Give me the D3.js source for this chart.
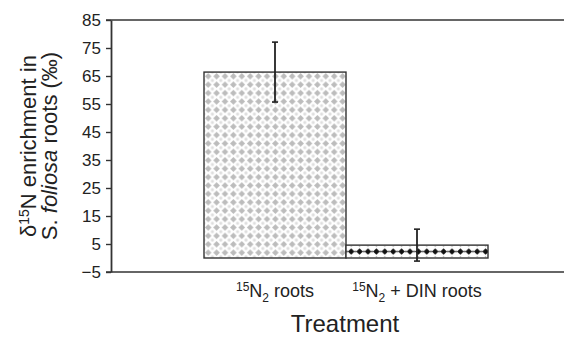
<!DOCTYPE html>
<meta charset="utf-8">
<script src="https://cdn.jsdelivr.net/npm/d3@7"></script>
<style>
  body { margin: 0; background: #fff; font-family: 'Liberation Sans', Arial, sans-serif; color: #222; }
</style>
<div id="chart"></div>
<script>
// data
var treatments = ["n2", "n2din"];
var means = [66.4, 4.6];
var errors = [10.7, 5.7];
var yTicks = [-5, 5, 15, 25, 35, 45, 55, 65, 75, 85];

var width = 564, height = 337;
var axisColor = "#333";

var svg = d3.select("#chart").append("svg")
  .attr("width", width)
  .attr("height", height);

var y = d3.scaleLinear().domain([-5, 85]).range([272, 20]);
var x = d3.scaleBand().domain(treatments).range([204, 488]).padding(0);

// fill patterns
var defs = svg.append("defs");
var p1 = defs.append("pattern")
  .attr("id", "grayDots")
  .attr("patternUnits", "userSpaceOnUse")
  .attr("x", 204).attr("y", y(means[0]))
  .attr("width", 8.4).attr("height", 8.4);
p1.append("rect").attr("width", 8.4).attr("height", 8.4).attr("fill", "#fff");
[[0, 0], [8.4, 0], [0, 8.4], [8.4, 8.4]].forEach(function(c) {
  p1.append("circle").attr("cx", c[0]).attr("cy", c[1]).attr("r", 1.6).attr("fill", "#dedede");
});
p1.append("path")
  .attr("d", "M4.2,0.9 L7.5,4.2 L4.2,7.5 L0.9,4.2 Z")
  .attr("fill", "#bcbcbc");

var h2 = y(0) - y(means[1]);
var p2 = defs.append("pattern")
  .attr("id", "blackDots")
  .attr("patternUnits", "userSpaceOnUse")
  .attr("x", x("n2din") + 1).attr("y", y(means[1]))
  .attr("width", 8.4).attr("height", h2);
p2.append("rect").attr("width", 8.4).attr("height", h2).attr("fill", "#fff");
p2.append("path")
  .attr("d", "M4.2," + (h2 / 2 - 3.3) + " L7.5," + (h2 / 2) + " L4.2," + (h2 / 2 + 3.3) + " L0.9," + (h2 / 2) + " Z")
  .attr("fill", "#111");
p2.append("circle").attr("cx", 0).attr("cy", h2 / 2).attr("r", 0.9).attr("fill", "#555");
p2.append("circle").attr("cx", 8.4).attr("cy", h2 / 2).attr("r", 0.9).attr("fill", "#555");
p2.append("circle").attr("cx", 4.2).attr("cy", 1.2).attr("r", 0.8).attr("fill", "#bbb");
p2.append("circle").attr("cx", 4.2).attr("cy", h2 - 1.2).attr("r", 0.8).attr("fill", "#bbb");

// top and bottom frame lines
svg.append("line")
  .attr("x1", 106).attr("x2", width)
  .attr("y1", y(85)).attr("y2", y(85))
  .attr("stroke", axisColor).attr("stroke-width", 1.6);
svg.append("line")
  .attr("x1", 106).attr("x2", width)
  .attr("y1", y(-5)).attr("y2", y(-5))
  .attr("stroke", axisColor).attr("stroke-width", 1.6);

// bars
var fills = ["url(#grayDots)", "url(#blackDots)"];
svg.selectAll("rect.bar")
  .data(treatments)
  .enter().append("rect")
    .attr("class", "bar")
    .attr("x", function(d) { return x(d); })
    .attr("width", x.bandwidth())
    .attr("y", function(d, i) { return y(means[i]); })
    .attr("height", function(d, i) { return y(0) - y(means[i]); })
    .attr("fill", function(d, i) { return fills[i]; })
    .attr("stroke", axisColor)
    .attr("stroke-width", 1.4);

// error bars
var eb = svg.selectAll("g.err")
  .data(treatments)
  .enter().append("g")
    .attr("class", "err")
    .attr("stroke", "#222");
eb.append("line")
  .attr("x1", function(d) { return x(d) + x.bandwidth() / 2; })
  .attr("x2", function(d) { return x(d) + x.bandwidth() / 2; })
  .attr("y1", function(d, i) { return y(means[i] + errors[i]); })
  .attr("y2", function(d, i) { return y(means[i] - errors[i]); })
  .attr("stroke-width", 1.8);
eb.selectAll("line.cap")
  .data(function(d, i) { return [[d, means[i] + errors[i]], [d, means[i] - errors[i]]]; })
  .enter().append("line")
    .attr("class", "cap")
    .attr("x1", function(c) { return x(c[0]) + x.bandwidth() / 2 - 3; })
    .attr("x2", function(c) { return x(c[0]) + x.bandwidth() / 2 + 3; })
    .attr("y1", function(c) { return y(c[1]); })
    .attr("y2", function(c) { return y(c[1]); })
    .attr("stroke-width", 1.6);

// y axis
var yAxis = svg.append("g")
  .attr("transform", "translate(111,0)")
  .call(d3.axisLeft(y).tickValues(yTicks).tickSize(5).tickPadding(5).tickSizeOuter(0));
yAxis.select(".domain").attr("stroke", axisColor).attr("stroke-width", 1.8);
yAxis.selectAll(".tick line").attr("stroke", axisColor).attr("stroke-width", 1.4);
yAxis.selectAll(".tick text")
  .attr("fill", "#222")
  .style("font-size", "17px")
  .style("font-family", "'Liberation Sans', Arial, sans-serif");

// x tick labels with super/subscripts
var xl = svg.selectAll("text.xlab")
  .data(treatments)
  .enter().append("text")
    .attr("class", "xlab")
    .attr("x", function(d) { return x(d) + x.bandwidth() / 2; })
    .attr("y", 297)
    .attr("text-anchor", "middle")
    .attr("fill", "#222")
    .style("font-size", "18px");
xl.append("tspan").attr("baseline-shift", "6").style("font-size", "12px").text("15");
xl.append("tspan").text("N");
xl.append("tspan").attr("baseline-shift", "-5").style("font-size", "12px").text("2");
xl.append("tspan").text(function(d) { return d === "n2" ? " roots" : " + DIN roots"; });

// x title
svg.append("text")
  .attr("x", (204 + 488) / 2 - 1)
  .attr("y", 332)
  .attr("text-anchor", "middle")
  .attr("fill", "#222")
  .style("font-size", "24px")
  .text("Treatment");

// y title, two lines
var yt1 = svg.append("text")
  .attr("transform", "translate(36,146) rotate(-90)")
  .attr("text-anchor", "middle")
  .attr("fill", "#222")
  .style("font-size", "22px");
yt1.append("tspan").text("δ");
yt1.append("tspan").attr("baseline-shift", "7").style("font-size", "14px").text("15");
yt1.append("tspan").text("N enrichment in");

var yt2 = svg.append("text")
  .attr("transform", "translate(57,146) rotate(-90)")
  .attr("text-anchor", "middle")
  .attr("fill", "#222")
  .style("font-size", "22px");
yt2.append("tspan").text("S. ");
yt2.append("tspan").style("font-style", "italic").text("foliosa");
yt2.append("tspan").text(" roots (‰)");
</script>
